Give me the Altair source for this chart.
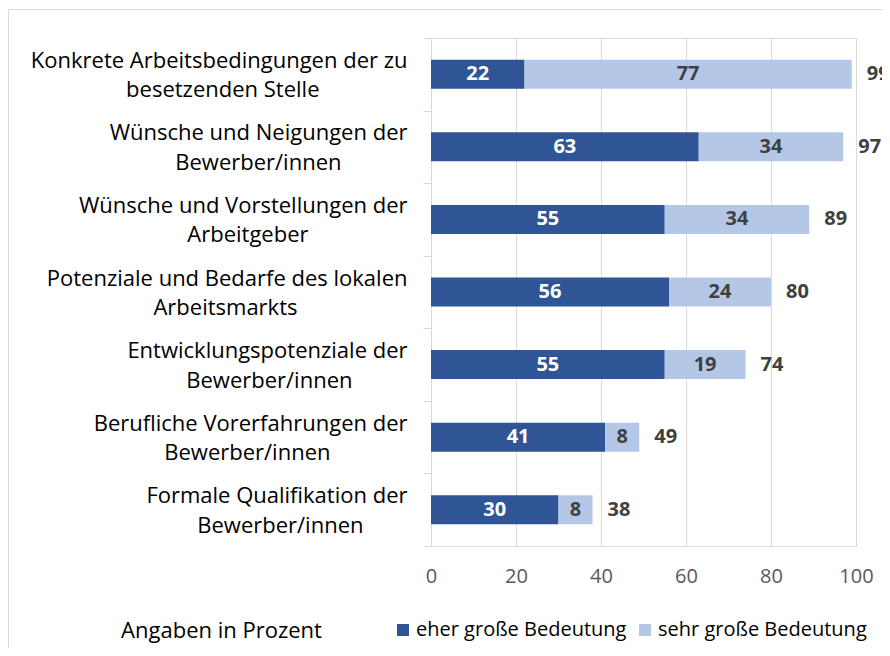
import altair as alt
import pandas as pd

# ---- data ----
line1 = [
    "Konkrete Arbeitsbedingungen der zu",
    "Wünsche und Neigungen der",
    "Wünsche und Vorstellungen der",
    "Potenziale und Bedarfe des lokalen",
    "Entwicklungspotenziale der",
    "Berufliche Vorerfahrungen der",
    "Formale Qualifikation der",
]
line2 = [
    "besetzenden Stelle",
    "Bewerber/innen",
    "Arbeitgeber",
    "Arbeitsmarkts",
    "Bewerber/innen",
    "Bewerber/innen",
    "Bewerber/innen",
]
eher = [22, 63, 55, 56, 55, 41, 30]
sehr = [77, 34, 34, 24, 19, 8, 8]
series = ["eher große Bedeutung", "sehr große Bedeutung"]
x_ticks = [0, 20, 40, 60, 80, 100]
note = "Angaben in Prozent"

FONT = "Open Sans"
FS = 20
FS_CAT = 22
DARK = "#2F5597"
LIGHT = "#B4C7E7"
GRID = "#D9D9D9"
TXT = "#404040"

# rough Open Sans advance widths (em) to centre the second label line
_W = {
    "a": .556, "b": .613, "c": .480, "d": .613, "e": .561, "f": .336, "g": .546,
    "h": .614, "i": .258, "j": .258, "k": .529, "l": .258, "m": .932, "n": .614,
    "o": .603, "p": .613, "q": .613, "r": .408, "s": .477, "t": .353, "u": .614,
    "v": .501, "w": .778, "x": .524, "y": .501, "z": .463, "ü": .614, " ": .260,
    "/": .371, "A": .633, "B": .647, "E": .556, "F": .516, "K": .614, "P": .604,
    "W": .930,
}


def text_em(s):
    return sum(_W.get(ch, .6) for ch in s)


# block right-aligned, second line centred under the first:
# pad with en-spaces (0.5 em) worth half the width difference, closed by a word joiner
def make_label(a, b):
    n = round((text_em(a) - text_em(b)) / 2 / 0.5)
    return a + "|" + b + "\u2002" * max(n, 0) + "\u2060"


cats = [make_label(a, b) for a, b in zip(line1, line2)]

rows = []
for c, e, s in zip(cats, eher, sehr):
    rows.append({"cat": c, "series": series[0], "value": e, "start": 0, "end": e, "mid": e / 2})
    rows.append({"cat": c, "series": series[1], "value": s, "start": e, "end": e + s, "mid": e + s / 2})
df = pd.DataFrame(rows)
df_tot = pd.DataFrame({"cat": cats, "total": [e + s for e, s in zip(eher, sehr)]})

W, H = 425, 508

y_enc = alt.Y(
    "cat:N",
    sort=cats,
    scale=alt.Scale(paddingInner=0, paddingOuter=0),
    axis=alt.Axis(
        title=None,
        labelExpr="split(datum.label, '|')",
        labelFont=FONT,
        labelFontSize=FS_CAT,
        labelColor="black",
        labelLineHeight=29.5,
        labelOffset=-14,
        labelPadding=16,
        labelAlign="right",
        labelBaseline="middle",
        labelLimit=600,
        tickSize=8,
        tickColor=GRID,
        domainColor=GRID,
        tickBand="extent",
        grid=False,
    ),
)

x_scale = alt.Scale(domain=[0, 100], nice=False, zero=True)

bars = alt.Chart(df).mark_bar(size=29).encode(
    y=y_enc,
    x=alt.X(
        "start:Q",
        scale=x_scale,
        axis=alt.Axis(
            values=x_ticks,
            title=note,
            titleX=-210,
            titleY=84,
            titleAlign="center",
            titleBaseline="middle",
            titleFont=FONT,
            titleFontSize=FS_CAT,
            titleFontWeight="normal",
            titleColor="black",
            labelFont=FONT,
            labelFontSize=FS,
            labelColor="#595959",
            labelPadding=20,
            labelFlush=False,
            domain=False,
            ticks=False,
            grid=True,
            gridColor=GRID,
            gridWidth=1,
        ),
    ),
    x2="end:Q",
    color=alt.Color(
        "series:N",
        scale=alt.Scale(domain=series, range=[DARK, LIGHT]),
        legend=alt.Legend(
            title=None,
            orient="none",
            legendX=-38,
            legendY=582,
            direction="horizontal",
            symbolType="square",
            symbolSize=144,
            symbolStrokeWidth=0,
            labelFont=FONT,
            labelFontSize=FS,
            labelColor="black",
            labelOffset=3,
            columnPadding=8,
            padding=0,
            labelLimit=400,
        ),
    ),
)

seg_text = alt.Chart(df).mark_text(
    font=FONT, fontSize=FS, fontWeight="bold", baseline="middle", align="center"
).encode(
    y=alt.Y("cat:N", sort=cats),
    x=alt.X("mid:Q", scale=x_scale),
    text=alt.Text("value:Q"),
    color=alt.condition(alt.datum.series == series[0], alt.value("white"), alt.value(TXT)),
)

tot_text = alt.Chart(df_tot).mark_text(
    font=FONT, fontSize=FS, fontWeight="bold", baseline="middle", align="left", dx=15, color=TXT
).encode(
    y=alt.Y("cat:N", sort=cats),
    x=alt.X("total:Q", scale=x_scale),
    text=alt.Text("total:Q"),
)

frame = alt.Chart(pd.DataFrame({"k": [0]})).mark_rect(
    fill=None, stroke=GRID, strokeWidth=1
).encode(
    x=alt.value(-422.5), x2=alt.value(W + 200), y=alt.value(-28.5), y2=alt.value(H + 300)
)

chart = alt.layer(frame, bars, seg_text, tot_text).properties(
    width=W,
    height=H,
    autosize="none",
    padding={"left": 423, "top": 30, "right": 26, "bottom": 102},
).configure_view(strokeWidth=0).configure(background="white")

chart.save("out.html", embed_options={"renderer": "svg", "actions": False})
